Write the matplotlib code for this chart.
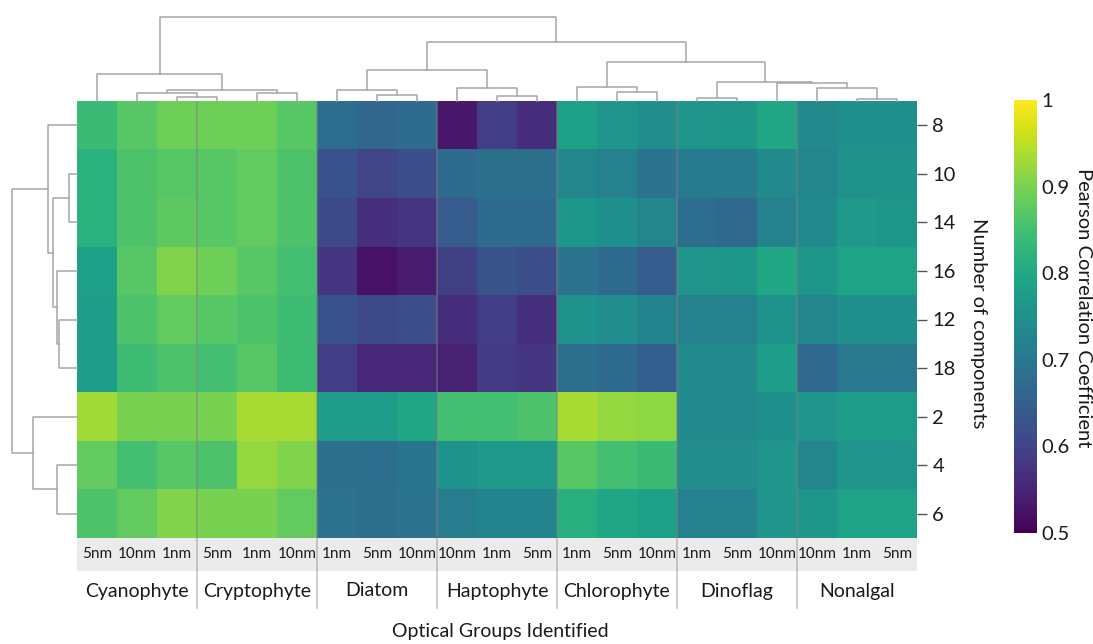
import numpy as np
import matplotlib.pyplot as plt
from matplotlib.patches import Rectangle

plt.rcParams['font.family'] = ['Lato', 'DejaVu Sans']

# colonnes (ordre du clustering) et lignes
groups = ['Cyanophyte', 'Cryptophyte', 'Diatom', 'Haptophyte', 'Chlorophyte', 'Dinoflag', 'Nonalgal']
col_res = ['5nm', '10nm', '1nm', '5nm', '1nm', '10nm', '1nm', '5nm', '10nm',
           '10nm', '1nm', '5nm', '1nm', '5nm', '10nm', '1nm', '5nm', '10nm',
           '10nm', '1nm', '5nm']
row_labels = ['8', '10', '14', '16', '12', '18', '2', '4', '6']

# correlation de Pearson
r_8 = [0.84, 0.87, 0.89, 0.89, 0.89, 0.87, 0.68, 0.665, 0.675, 0.535, 0.59, 0.565,
       0.785, 0.76, 0.745, 0.76, 0.765, 0.795, 0.735, 0.75, 0.75]
r_10 = [0.82, 0.86, 0.87, 0.87, 0.88, 0.86, 0.625, 0.605, 0.62, 0.675, 0.685, 0.685,
        0.73, 0.72, 0.69, 0.705, 0.705, 0.74, 0.73, 0.755, 0.755]
r_14 = [0.82, 0.86, 0.875, 0.87, 0.88, 0.86, 0.61, 0.57, 0.58, 0.645, 0.675, 0.675,
        0.765, 0.75, 0.73, 0.68, 0.67, 0.72, 0.74, 0.77, 0.765]
r_16 = [0.785, 0.87, 0.905, 0.89, 0.87, 0.85, 0.58, 0.525, 0.54, 0.595, 0.63, 0.62,
        0.69, 0.675, 0.645, 0.76, 0.765, 0.80, 0.765, 0.79, 0.79]
r_12 = [0.78, 0.86, 0.88, 0.87, 0.86, 0.845, 0.625, 0.61, 0.62, 0.565, 0.59, 0.57,
        0.755, 0.745, 0.725, 0.72, 0.72, 0.755, 0.73, 0.75, 0.75]
r_18 = [0.78, 0.845, 0.86, 0.85, 0.87, 0.845, 0.59, 0.555, 0.555, 0.55, 0.585, 0.58,
        0.685, 0.675, 0.65, 0.74, 0.74, 0.78, 0.67, 0.70, 0.70]
r_2 = [0.93, 0.90, 0.90, 0.90, 0.935, 0.935, 0.775, 0.775, 0.795, 0.85, 0.85, 0.86,
       0.935, 0.92, 0.915, 0.74, 0.74, 0.75, 0.76, 0.775, 0.775]
r_4 = [0.88, 0.85, 0.87, 0.86, 0.92, 0.905, 0.685, 0.68, 0.695, 0.755, 0.77, 0.77,
       0.87, 0.85, 0.84, 0.745, 0.745, 0.76, 0.73, 0.76, 0.76]
r_6 = [0.86, 0.88, 0.905, 0.90, 0.90, 0.88, 0.69, 0.685, 0.69, 0.71, 0.725, 0.725,
       0.815, 0.795, 0.785, 0.72, 0.72, 0.76, 0.765, 0.79, 0.79]

# fusions des dendrogrammes : (gauche, droite, hauteur relative)
col_links = [(2, 3, 0.045), (1, 21, 0.092), (4, 5, 0.097), (22, 23, 0.136), (0, 24, 0.325),
             (7, 8, 0.073), (6, 26, 0.136), (10, 11, 0.062), (9, 28, 0.156), (27, 29, 0.373),
             (13, 14, 0.109), (12, 31, 0.168), (15, 16, 0.03), (19, 20, 0.018), (18, 34, 0.151),
             (17, 35, 0.21), (33, 36, 0.227), (32, 37, 0.47), (30, 38, 0.704), (25, 39, 1.0)]
row_links = [(1, 2, 0.13), (4, 5, 0.27), (3, 10, 0.31), (9, 11, 0.363), (0, 12, 0.45),
             (7, 8, 0.31), (6, 14, 0.674), (13, 15, 1.0)]

data = np.array([r_8, r_10, r_14, r_16, r_12, r_18, r_2, r_4, r_6])
n_rows, n_cols = data.shape
LINE = '#a6a6a6'
SEP = '#808080'
TXT = '#1a1a1a'


def dendro(ax, links, n, vertical=False):
    pos = [i + 0.5 for i in range(n)]
    hgt = [0.0] * n
    for a, b, h in links:
        xs = [pos[a], pos[a], pos[b], pos[b]]
        ys = [hgt[a], h, h, hgt[b]]
        if vertical:
            ax.plot(ys, xs, color=LINE, lw=1.1, clip_on=False)
        else:
            ax.plot(xs, ys, color=LINE, lw=1.1, clip_on=False)
        pos.append((pos[a] + pos[b]) / 2)
        hgt.append(h)


W, H = 1093, 644
fig = plt.figure(figsize=(W / 100, H / 100), dpi=100)


def px_axes(x0, y0, x1, y1):
    return fig.add_axes([x0 / W, 1 - y1 / H, (x1 - x0) / W, (y1 - y0) / H])


# heatmap
ax = px_axes(77, 101, 917, 538)
im = ax.imshow(data, cmap='viridis', vmin=0.5, vmax=1, aspect='auto',
               interpolation='nearest', extent=(0, n_cols, n_rows, 0))
for b in [3, 6, 9, 12, 15, 18]:
    ax.axvline(b, color=SEP, lw=1.2, alpha=0.55)
ax.set_xticks([])
ax.yaxis.tick_right()
ax.set_yticks(np.arange(n_rows) + 0.5)
ax.set_yticklabels(row_labels, fontsize=14.5, color=TXT)
ax.tick_params(axis='y', length=7, width=1, color='#555555', pad=4)
for s in ax.spines.values():
    s.set_visible(False)
fig.text(978 / W, 1 - 323 / H, 'Number of components', rotation=270, ha='center',
         va='center', fontsize=14.5, color=TXT)

# dendrogramme du haut
axt = px_axes(77, 17, 917, 101)
dendro(axt, col_links, n_cols)
axt.set_xlim(0, n_cols)
axt.set_ylim(0, 1)
axt.axis('off')

# dendrogramme de gauche
axl = px_axes(12, 101, 77, 538)
dendro(axl, row_links, n_rows, vertical=True)
axl.set_ylim(n_rows, 0)
axl.set_xlim(1, 0)
axl.axis('off')

# bande des labels + groupes
axb = px_axes(77, 538, 917, 612)
axb.set_xlim(0, n_cols)
axb.set_ylim(74, 0)
axb.add_patch(Rectangle((0, 0), n_cols, 33, color='#ebebeb', lw=0))
for i, lab in enumerate(col_res):
    axb.text(i + 0.5, 16.5, lab, ha='center', va='center', fontsize=11, color=TXT)
for g, name in enumerate(groups):
    axb.text(g * 3 + 1.5, 53, name, ha='center', va='center', fontsize=14, color=TXT)
for b in [3, 6, 9, 12, 15, 18]:
    axb.plot([b, b], [0, 70], color=SEP, lw=1.2, alpha=0.45)
axb.axis('off')

fig.text(500 / W, 1 - 632 / H, 'Optical Groups Identified', ha='center', va='center',
         fontsize=14, color=TXT)

# barre de couleur
cax = px_axes(1014, 100, 1037, 533)
cb = fig.colorbar(im, cax=cax)
cb.outline.set_visible(False)
cb.set_ticks([0.5, 0.6, 0.7, 0.8, 0.9, 1.0])
cb.set_ticklabels(['0.5', '0.6', '0.7', '0.8', '0.9', '1'])
cax.tick_params(length=0, labelsize=14.5, pad=3, labelcolor=TXT)
fig.text(1084 / W, 1 - 308 / H, 'Pearson Correlation Coefficient', rotation=270,
         ha='center', va='center', fontsize=14.5, color=TXT)

fig.savefig('out.png', dpi=100)
